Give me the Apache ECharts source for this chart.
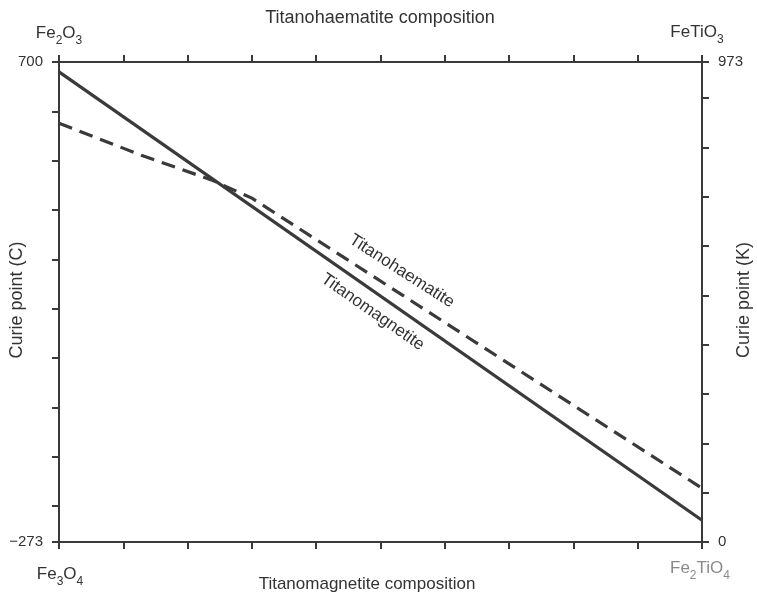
<!DOCTYPE html>
<html>
<head>
<meta charset="utf-8">
<script src="https://cdn.jsdelivr.net/npm/echarts@6/dist/echarts.min.js"></script>
<style>
html,body{margin:0;padding:0;background:#fff;}
#chart{width:757px;height:595px;}
</style>
</head>
<body>
<div id="chart"></div>
<script>
// Composition fraction (0 = end member at left, 1 = end member at right)
const magnetiteX = [0, 1];
const magnetiteK = [953, 44];            // Titanomagnetite Curie point (K), solid
const haematiteX = [0, 0.128, 0.237, 0.30, 1];
const haematiteK = [849, 784, 734, 697, 109]; // Titanohaematite Curie point (K), dashed

const leftTicksC = [700, 600, 500, 400, 300, 200, 100, 0, -100, -200, -273];
const leftLabelsC = [700, -273];
const rightTicksK = [0, 100, 200, 300, 400, 500, 600, 700, 800, 900, 973];
const rightLabelsK = [0, 973];

const topTitle = 'Titanohaematite composition';
const bottomTitle = 'Titanomagnetite composition';
const leftName = 'Curie point (C)';
const rightName = 'Curie point (K)';
// corner formulas: [text, subscript] pieces
const cornerTL = [['Fe', ''], ['2', 's'], ['O', ''], ['3', 's']];
const cornerTR = [['FeTiO', ''], ['3', 's']];
const cornerBL = [['Fe', ''], ['3', 's'], ['O', ''], ['4', 's']];
const cornerBR = [['Fe', ''], ['2', 's'], ['TiO', ''], ['4', 's']];
const lineLabelHaem = 'Titanohaematite';
const lineLabelMag = 'Titanomagnetite';
// label anchors in data space [x, K]
const haemLabelAt = [0.533, 549];
const magLabelAt = [0.488, 466];

const INK = '#3a3a3a';
const FONT = '"Liberation Sans", Arial, Helvetica, sans-serif';

const chart = echarts.init(document.getElementById('chart'), null, {renderer: 'canvas'});

const axisLine = {show: true, onZero: false, lineStyle: {color: INK, width: 2}};
const axisTick = {show: true, length: 7, lineStyle: {color: INK, width: 2}};

const option = {
  animation: false,
  backgroundColor: '#fff',
  grid: {left: 59, top: 62, width: 643, height: 480, containLabel: false},
  xAxis: [
    {type: 'value', position: 'bottom', min: 0, max: 1, interval: 0.1,
     axisLine: axisLine, axisTick: axisTick, axisLabel: {show: false}, splitLine: {show: false}},
    {type: 'value', position: 'top', min: 0, max: 1, interval: 0.1,
     axisLine: axisLine, axisTick: axisTick, axisLabel: {show: false}, splitLine: {show: false}}
  ],
  yAxis: [
    {type: 'value', position: 'left', min: -273, max: 700,
     axisLine: axisLine,
     axisTick: Object.assign({}, axisTick, {customValues: leftTicksC}),
     axisLabel: {show: true, customValues: leftLabelsC, margin: 16, color: '#333', fontSize: 15, fontFamily: FONT,
       formatter: v => (v < 0 ? '\u2212' + Math.abs(v) : String(v))},
     splitLine: {show: false}},
    {type: 'value', position: 'right', min: 0, max: 973,
     axisLine: axisLine,
     axisTick: Object.assign({}, axisTick, {customValues: rightTicksK}),
     axisLabel: {show: true, customValues: rightLabelsK, margin: 16, color: '#333', fontSize: 15, fontFamily: FONT},
     splitLine: {show: false}}
  ],
  series: [
    {name: lineLabelMag, type: 'line', xAxisIndex: 0, yAxisIndex: 1, symbol: 'none',
     data: magnetiteX.map((x, i) => [x, magnetiteK[i]]),
     lineStyle: {color: INK, width: 3.2, type: 'solid'}},
    {name: lineLabelHaem, type: 'line', xAxisIndex: 0, yAxisIndex: 1, symbol: 'none',
     data: haematiteX.map((x, i) => [x, haematiteK[i]]),
     lineStyle: {color: INK, width: 3.2, type: [14, 8]}}
  ]
};
chart.setOption(option);

function px(pt) { return chart.convertToPixel({xAxisIndex: 0, yAxisIndex: 1}, pt); }
function angleOf(xs, ks, i0, i1) {
  const a = px([xs[i0], ks[i0]]), b = px([xs[i1], ks[i1]]);
  return -Math.atan2(b[1] - a[1], b[0] - a[0]);
}
const haemPos = px(haemLabelAt);
const magPos = px(magLabelAt);
const haemRot = angleOf(haematiteX, haematiteK, 3, 4);
const magRot = angleOf(magnetiteX, magnetiteK, 0, 1);

const txt = (text, x, y, size, opts) => Object.assign({
  type: 'text', x: x, y: y,
  style: {text: text, fill: '#333', font: size + 'px ' + FONT, textAlign: 'center', textVerticalAlign: 'middle'}
}, opts || {});

function formula(parts, x, y, color) {
  return {
    type: 'text', x: x, y: y,
    style: {
      text: parts.map(p => '{' + (p[1] === 's' ? 's' : 'n') + '|' + p[0] + '}').join(''),
      fill: color, textAlign: 'center', textVerticalAlign: 'middle',
      rich: {
        n: {fontSize: 17, fontFamily: FONT, fill: color, lineHeight: 18, verticalAlign: 'top'},
        s: {fontSize: 12, fontFamily: FONT, fill: color, lineHeight: 22, verticalAlign: 'bottom'}
      }
    }
  };
}

chart.setOption({
  graphic: [
    txt(topTitle, 380, 18, 18),
    txt(bottomTitle, 367, 584, 17),
    txt(leftName, 17, 300, 18, {rotation: Math.PI / 2}),
    txt(rightName, 744, 300, 18, {rotation: Math.PI / 2}),
    formula(cornerTL, 59, 36, '#333'),
    formula(cornerTR, 697, 35, '#333'),
    formula(cornerBL, 60, 577, '#333'),
    formula(cornerBR, 700, 571, '#8a8a8a'),
    txt(lineLabelHaem, haemPos[0], haemPos[1], 17, {rotation: haemRot}),
    txt(lineLabelMag, magPos[0], magPos[1], 17, {rotation: magRot})
  ]
});
</script>
</body>
</html>
